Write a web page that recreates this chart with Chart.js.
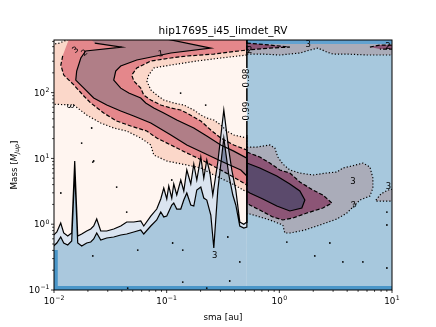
<!DOCTYPE html>
<html>
<head>
<meta charset="utf-8">
<script src="https://cdn.jsdelivr.net/npm/chart.js@4.4.1/dist/chart.umd.min.js"></script>
<style>
  html, body { margin: 0; padding: 0; background: #ffffff; }
  #wrap { width: 436px; height: 327px; }
</style>
</head>
<body>
<div id="wrap"><canvas id="chart" width="436" height="327"></canvas></div>
<script>
/* ===================================
   DATA (sma in au, mass in M_Jup)
   =================================== */

const chartTitle = 'hip17695_i45_limdet_RV';
const xTitle = 'sma [au]';

const xMajor = [0.01, 0.1, 1, 10];
const xMajorExp = ['\u22122', '\u22121', '0', '1'];
const yMajor = [0.1, 1, 10, 100];
const yMajorExp = ['\u22121', '0', '1', '2'];

// left of the 0.52 au cut: level 3 (dotted), 2 (dashed), 1 (solid)
const lvl3Sma = [0.009, 0.0112, 0.015, 0.515,
  0.515, 0.302, 0.185, 0.109, 0.0768, 0.0693, 0.0666, 0.0723, 0.0817, 0.0942, 0.116, 0.142, 0.174, 0.201, 0.227, 0.262, 0.302, 0.342, 0.394, 0.515,
  0.515, 0.371, 0.262, 0.201, 0.151, 0.1, 0.0768, 0.0723, 0.0589, 0.0442, 0.0339, 0.026, 0.0195, 0.015, 0.009];
const lvl3Mass = [529, 567, 700, 700,
  373, 336, 302, 263, 237, 185, 150, 110, 92, 77.2, 69.5, 64.8, 54.4, 45.7, 41.1, 38.4, 32.2, 26.1, 22.7, 20.4,
  3.08, 4.23, 5.6, 7.15, 7.94, 9.13, 11.3, 16, 20.4, 26.1, 29, 34.5, 45.7, 64.8, 67.1];

const lvl2Sma = [0.0138, 0.515,
  0.515, 0.262, 0.151, 0.109, 0.0723, 0.0543, 0.049, 0.0511, 0.0589, 0.0626, 0.0723, 0.0886, 0.109, 0.133, 0.151, 0.201, 0.2465, 0.302, 0.394, 0.515,
  0.515, 0.419, 0.302, 0.2135, 0.151, 0.109, 0.0817, 0.0666, 0.048, 0.036, 0.0276, 0.0212, 0.0184, 0.015, 0.0122, 0.0115, 0.012];
const lvl2Mass = [700, 700,
  444, 386, 360, 336, 302, 237, 185, 150, 117, 92, 77.2, 64.8, 58.3, 54.4, 49, 37, 27, 20.4, 16, 13.4,
  3.94, 4.87, 6.67, 9.13, 12.1, 16, 20.4, 26.1, 31.1, 37, 49, 69.5, 88.8, 131, 185, 263, 373];

const lvl1Sma = [0.0203, 0.0817, 0.2465, 0.109, 0.0543, 0.0391, 0.0353, 0.0339, 0.0391, 0.0461, 0.0589, 0.0652, 0.0768, 0.0942, 0.123, 0.174, 0.227, 0.302, 0.394, 0.515,
  0.515, 0.455, 0.302, 0.2135, 0.151, 0.109, 0.0723, 0.051, 0.0391, 0.0294, 0.0225, 0.0184, 0.0156, 0.0159, 0.0173, 0.0191, 0.04, 0.023];
const lvl1Mass = [700, 700, 476, 400, 313, 254, 213, 155, 117, 98.6, 82.8, 69.5, 58.3, 49, 38.4, 29, 21.9, 16, 12.9, 10.1,
  5.4, 6.67, 9.13, 12.1, 16, 22.7, 34.5, 44.1, 52.5, 64.8, 82.8, 117, 155, 213, 336, 429, 493, 567];

// right of the cut
const r3Sma = [0.515, 0.631, 0.8235, 0.912, 0.97, 1.074, 1.24, 1.521, 1.984, 2.642, 3.242, 3.664, 4.405, 5.515, 6.367, 6.767, 6.767, 6.367, 5.188, 3.977,
  3.242, 2.289, 1.685, 1.24, 1.119, 1.074, 0.8235, 0.671, 0.547, 0.515];
const r3Mass = [14.9, 14.9, 16, 14.4, 10.5, 8.22, 6.67, 6, 5.6, 6, 6.21, 7.15, 7.67, 8.51, 7.4, 5.04, 3.55, 2.68, 2.33, 1.48,
  1.2, 0.972, 0.816, 0.735, 0.735, 0.972, 1.16, 1.29, 1.43, 1.43];
const isleSma = [7.2, 7.97, 9.2, 10.5, 10.5, 7.2];
const isleMass = [2.33, 2.88, 3.31, 3.43, 2.25, 2.25];
const r2Sma = [0.515, 0.671, 0.8235, 1.01, 1.24, 1.521, 1.984, 2.434, 2.926, 2.434, 1.755, 1.318, 1.074, 0.8755, 0.671, 0.547, 0.515];
const r2Mass = [12.5, 10.5, 8.51, 6.67, 6, 4.38, 3.31, 2.78, 2.1, 1.76, 1.48, 1.24, 1.16, 1.29, 1.64, 1.96, 2.1];
const r1Sma = [0.515, 0.671, 0.95, 1.24, 1.521, 1.685, 1.584, 1.24, 0.95, 0.714, 0.547, 0.515];
const r1Mass = [8.51, 7.15, 5.4, 4.08, 3.2, 2.33, 1.76, 1.59, 1.89, 2.42, 2.98, 3.2];

// top band right of the cut
const top3Sma = [0.515, 10.5, 10.5, 5.984, 3.977, 2.987, 2.642, 2.197, 1.866, 1.521, 1.01, 0.699, 0.515];
const top3Mass = [700, 700, 373, 373, 386, 386, 414, 476, 444, 400, 373, 386, 386];
const top2Sma = [0.515, 0.8235, 1.24, 0.8235, 0.515];
const top2Mass = [567, 529, 493, 476, 444];
const top2bSma = [6.367, 7.81, 10.5, 10.5, 7.81];
const top2bMass = [493, 529, 529, 460, 460];

// detection limit curves
const upperSma = [0.009, 0.0106, 0.01147, 0.0122, 0.01324, 0.01436, 0.01527, 0.01624, 0.01762, 0.01951,
  0.02118, 0.02252, 0.02394, 0.02599, 0.02938, 0.0339, 0.03912, 0.04421, 0.05105, 0.05888,
  0.0626, 0.07225, 0.08166, 0.08864, 0.09424, 0.1002, 0.1044, 0.111, 0.1156, 0.1229,
  0.1334, 0.1419, 0.1509, 0.1637, 0.1741, 0.1851, 0.2009, 0.2135, 0.2271, 0.2415,
  0.2567, 0.2844, 0.3215, 0.3561, 0.3786, 0.4108, 0.4458, 0.4838, 0.515, 0.515];
const upperMass = [0.58, 0.761, 1.04, 0.735, 0.662, 0.735, 9.13, 0.662, 0.71, 0.788,
  0.845, 0.939, 1.2, 0.788, 0.788, 0.845, 0.939, 1.08, 1.08, 1.12,
  0.939, 1.33, 1.7, 2.42, 3.55, 2.42, 3.81, 2.5, 4.08, 2.78,
  4.7, 3.2, 6.67, 4.08, 8.22, 4.7, 10.5, 5.04, 9.46, 6.21,
  2.78, 8.81, 54.4, 13.4, 6.67, 3.31, 1.08, 1.0, 1.08, 22.7];
const lowerSma = [0.009, 0.0106, 0.01147, 0.0122, 0.01324, 0.01436, 0.01527, 0.01624, 0.01762, 0.01951,
  0.02118, 0.02252, 0.02394, 0.02599, 0.02938, 0.0339, 0.03912, 0.04421, 0.05105, 0.05888,
  0.0626, 0.07225, 0.08166, 0.08864, 0.09424, 0.1002, 0.111, 0.1156, 0.1229, 0.1334,
  0.1419, 0.1509, 0.1637, 0.1741, 0.1851, 0.2009, 0.2135, 0.2271, 0.2465, 0.262,
  0.2844, 0.3215, 0.3561, 0.3865, 0.4108, 0.4458, 0.4838, 0.515];
const lowerMass = [0.4, 0.518, 0.639, 0.518, 0.483, 0.555, 6.21, 0.518, 0.466, 0.518,
  0.536, 0.596, 0.735, 0.575, 0.617, 0.639, 0.685, 0.71, 0.761, 0.816,
  0.71, 0.939, 1.16, 1.53, 1.29, 1.33, 1.96, 2.1, 1.7, 1.7,
  2.33, 2.98, 1.96, 1.89, 3.31, 3.67, 2.5, 2.33, 1.38, 0.435,
  3.31, 20.4, 5.6, 2.78, 1.96, 0.939, 0.875, 0.907];

// the 0.98 / 0.99 line at the cut, broken where its labels sit
const cutSma = [0.515, 0.515, 0.515, 0.515, 0.515, 0.515, 0.515, 0.515];
const cutMass = [700, 237, null, 117, 74.5, null, 37, 1.04];

// isolated specks
const dotSma = [0.0176, 0.0221, 0.0115, 0.036, 0.0216, 0.133, 0.222, 0.111, 0.0225, 0.0442, 0.0221, 0.0554, 0.113, 0.139,
  0.349, 0.446, 1.166, 2.065, 2.809, 3.664, 5.515, 9.01, 9.01, 9.01, 0.0451, 0.227, 0.363, 0.139];
const dotMass = [17.1, 8.81, 2.98, 3.67, 29, 98.6, 64.8, 4.7, 9.13, 1.53, 0.329, 0.405, 0.518, 0.405,
  0.639, 0.267, 0.536, 0.329, 0.518, 0.267, 0.267, 0.216, 0.972, 1.53, 0.107, 0.107, 0.137, 0.132];

// contour labels
const clabelText = ['3', '2', '1', '3', '0.98', '0.99', '3', '2', '2', '3', '3', '3', '3'];
const clabelSma = [0.0156, 0.0187, 0.0886, 0.0136, 0.515, 0.515, 1.8, 0.545, 9.2, 4.5, 4.6, 9.3, 0.267];
const clabelMass = [444, 400, 386, 62.5, 167, 52.5, 529, 440, 493, 4.38, 1.96, 3.67, 0.329];
const clabelRot = [-40, -40, -10, 90, -90, -90, 0, 0, 0, 0, -20, 0, 0];

/* ===================================
   HELPERS
   =================================== */

const FONT = '"DejaVu Sans", sans-serif';
const DOTTED = [1.2, 2];
const DASHED = [4, 2];
const SOLID = [];

function pts(xs, ys) {
  return xs.map(function (x, i) { return { x: x, y: ys[i] }; });
}

function area(data, color) {
  return { data: data, polyFill: color, showLine: false, pointRadius: 0 };
}

function contour(data, dash, width) {
  return {
    data: data,
    showLine: true,
    fill: false,
    borderColor: '#000000',
    borderWidth: width || 1.2,
    borderDash: dash,
    pointRadius: 0,
  };
}

const bandData = pts(upperSma, upperMass).concat(pts(lowerSma, lowerMass).reverse());
const belowData = pts(lowerSma, lowerMass).concat([{ x: 0.515, y: 0.08 }, { x: 0.009, y: 0.08 }]);

const datasets = [
  area(pts(lvl3Sma, lvl3Mass), '#fbd7c9'),
  area(pts(lvl2Sma, lvl2Mass), '#e4878b'),
  area(pts(lvl1Sma, lvl1Mass), '#b07e87'),
  area(belowData, 'rgba(66,146,198,0.45)'),
  area(bandData, 'rgba(205,222,240,0.75)'),
  area(pts([0.515, 10.5, 10.5, 0.515], [0.08, 0.08, 700, 700]), '#a7c8dd'),
  area(pts(r3Sma, r3Mass), '#aaacb9'),
  area(pts(isleSma, isleMass), '#aaacb9'),
  area(pts(top3Sma, top3Mass), '#aaacb9'),
  area(pts([0.515, 10.5, 10.5, 0.515], [548, 548, 700, 700]), '#62a2d0'),
  area(pts([0.009, 0.0108, 0.0108, 0.009], [0.08, 0.08, 0.405, 0.405]), '#4a96c8'),
  area(pts([0.009, 10.5, 10.5, 0.009], [0.08, 0.08, 0.115, 0.115]), '#4a96c8'),
  area(pts(r2Sma, r2Mass), '#8c5576'),
  area(pts(top2Sma, top2Mass), '#8c5576'),
  area(pts(top2bSma, top2bMass), '#8c5576'),
  area(pts(r1Sma, r1Mass), '#5b4a6c'),
  contour(pts(lvl3Sma, lvl3Mass), DOTTED),
  contour(pts(lvl2Sma, lvl2Mass), DASHED),
  contour(pts(lvl1Sma, lvl1Mass), SOLID),
  contour(pts(r3Sma, r3Mass), DOTTED),
  contour(pts(isleSma, isleMass), DOTTED),
  contour(pts(top3Sma, top3Mass), DOTTED),
  contour(pts(r2Sma, r2Mass), DASHED),
  contour(pts(top2Sma, top2Mass), DASHED),
  contour(pts(top2bSma, top2bMass), DASHED),
  contour(pts(r1Sma, r1Mass), SOLID),
  contour(bandData, SOLID),
  contour(pts(cutSma, cutMass), SOLID, 1.5),
  {
    data: pts(dotSma, dotMass),
    showLine: false,
    pointRadius: 0.9,
    pointBackgroundColor: '#000000',
    pointBorderWidth: 0,
  },
];
// first entry drawn first
datasets.forEach(function (d, i) { d.order = datasets.length - i; });

/* ===================================
   PLUGIN: polygon fills, frame, ticks, text
   =================================== */

function powLabel(ctx, exp, x, y, align) {
  ctx.font = '8.75px ' + FONT;
  const wb = ctx.measureText('10').width;
  ctx.font = '6.2px ' + FONT;
  const we = ctx.measureText(exp).width;
  const w = wb + we + 0.4;
  const x0 = align === 'right' ? x - w : x - w / 2;
  ctx.textAlign = 'left';
  ctx.textBaseline = 'alphabetic';
  ctx.font = '8.75px ' + FONT;
  ctx.fillText('10', x0, y);
  ctx.font = '6.2px ' + FONT;
  ctx.fillText(exp, x0 + wb + 0.4, y - 3.8);
}

const figurePlugin = {
  id: 'figure',
  beforeDraw(chart) {
    const { ctx, chartArea: a } = chart;
    ctx.save();
    ctx.fillStyle = '#fff5f0';
    ctx.fillRect(a.left, a.top, a.right - a.left, a.bottom - a.top);
    ctx.restore();
  },
  beforeDatasetDraw(chart, args) {
    const ds = chart.data.datasets[args.index];
    if (!ds.polyFill) return;
    const { ctx, chartArea: a } = chart;
    const points = args.meta.data;
    ctx.save();
    ctx.beginPath();
    ctx.rect(a.left, a.top, a.right - a.left, a.bottom - a.top);
    ctx.clip();
    ctx.beginPath();
    points.forEach(function (p, i) {
      if (i === 0) ctx.moveTo(p.x, p.y); else ctx.lineTo(p.x, p.y);
    });
    ctx.closePath();
    ctx.fillStyle = ds.polyFill;
    ctx.fill();
    ctx.restore();
  },
  afterDraw(chart) {
    const { ctx, chartArea: a } = chart;
    const xs = chart.scales.x;
    const ys = chart.scales.y;
    ctx.save();

    // contour labels
    ctx.fillStyle = '#000000';
    ctx.font = '8.5px ' + FONT;
    ctx.textAlign = 'center';
    ctx.textBaseline = 'middle';
    clabelText.forEach(function (t, i) {
      ctx.save();
      ctx.translate(xs.getPixelForValue(clabelSma[i]), ys.getPixelForValue(clabelMass[i]));
      ctx.rotate(clabelRot[i] * Math.PI / 180);
      ctx.fillText(t, 0, 0);
      ctx.restore();
    });

    // frame
    ctx.strokeStyle = '#000000';
    ctx.lineWidth = 1;
    ctx.strokeRect(a.left, a.top, a.right - a.left, a.bottom - a.top);

    // ticks
    ctx.lineWidth = 0.8;
    ctx.beginPath();
    xMajor.forEach(function (d, i) {
      const px = xs.getPixelForValue(d);
      ctx.moveTo(px, a.bottom); ctx.lineTo(px, a.bottom + 3);
      if (i < xMajor.length - 1) {
        for (let k = 2; k <= 9; k++) {
          const q = xs.getPixelForValue(k * d);
          ctx.moveTo(q, a.bottom); ctx.lineTo(q, a.bottom + 1.8);
        }
      }
    });
    yMajor.forEach(function (d) {
      const py = ys.getPixelForValue(d);
      ctx.moveTo(a.left, py); ctx.lineTo(a.left - 3, py);
      for (let k = 2; k <= 9; k++) {
        if (k * d > ys.max) break;
        const q = ys.getPixelForValue(k * d);
        ctx.moveTo(a.left, q); ctx.lineTo(a.left - 1.8, q);
      }
    });
    ctx.stroke();

    // tick labels
    ctx.fillStyle = '#000000';
    xMajor.forEach(function (d, i) {
      powLabel(ctx, xMajorExp[i], xs.getPixelForValue(d), a.bottom + 14, 'center');
    });
    yMajor.forEach(function (d, i) {
      powLabel(ctx, yMajorExp[i], a.left - 4.5, ys.getPixelForValue(d) + 3.2, 'right');
    });

    // title and axis labels
    ctx.textAlign = 'center';
    ctx.textBaseline = 'alphabetic';
    ctx.font = '10.5px ' + FONT;
    ctx.fillText(chartTitle, (a.left + a.right) / 2, 34);
    ctx.font = '8.75px ' + FONT;
    ctx.fillText(xTitle, (a.left + a.right) / 2, 320);

    // y label: Mass [M_Jup]
    const parts = [
      { t: 'Mass [', f: '8.75px ' + FONT, dy: 0 },
      { t: 'M', f: 'italic 8.75px ' + FONT, dy: 0 },
      { t: 'Jup', f: 'italic 6.2px ' + FONT, dy: 2 },
      { t: ']', f: '8.75px ' + FONT, dy: 0 },
    ];
    let total = 0;
    parts.forEach(function (p) { ctx.font = p.f; p.w = ctx.measureText(p.t).width; total += p.w; });
    ctx.translate(17, (a.top + a.bottom) / 2);
    ctx.rotate(-Math.PI / 2);
    ctx.textAlign = 'left';
    let cx = -total / 2;
    parts.forEach(function (p) { ctx.font = p.f; ctx.fillText(p.t, cx, p.dy); cx += p.w; });

    ctx.restore();
  },
};

/* ===================================
   CHART
   =================================== */

new Chart(document.getElementById('chart').getContext('2d'), {
  type: 'scatter',
  data: { datasets: datasets },
  options: {
    responsive: false,
    animation: false,
    events: [],
    layout: { padding: { left: 54, right: 44, top: 40, bottom: 37 } },
    elements: { line: { tension: 0 }, point: { radius: 0 } },
    scales: {
      x: { type: 'logarithmic', min: 0.01, max: 10, display: false },
      y: { type: 'logarithmic', min: 0.1, max: 631, display: false },
    },
    plugins: { legend: { display: false }, tooltip: { enabled: false } },
  },
  plugins: [figurePlugin],
});
</script>
</body>
</html>
